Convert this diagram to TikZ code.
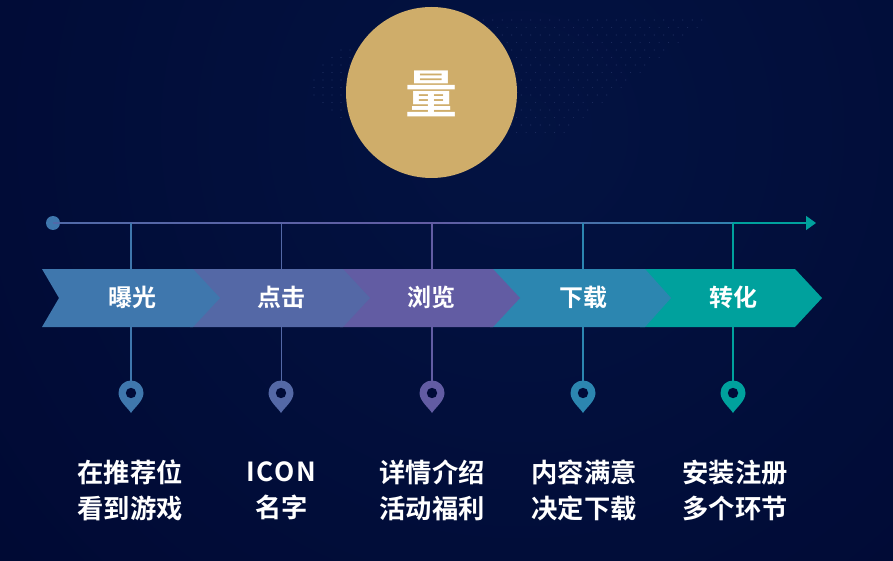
\documentclass[tikz,border=0pt]{standalone}
\usepackage{fontspec}
\setmainfont{Noto Sans CJK SC}[BoldFont={Noto Sans CJK SC Bold}]
\usetikzlibrary{arrows.meta}
\definecolor{bgGlow}{HTML}{031342}
\definecolor{bgBottom}{HTML}{000933}
\definecolor{dotTone}{HTML}{202F62}
\definecolor{lvlGold}{HTML}{CFAD6A}
\definecolor{lvlOne}{HTML}{3F77AD}
\definecolor{lvlTwo}{HTML}{5468A6}
\definecolor{lvlThree}{HTML}{625CA3}
\definecolor{lvlFour}{HTML}{2C86B0}
\definecolor{lvlFive}{HTML}{00A19D}
\definecolor{pinHole}{HTML}{000B38}
\pgfdeclarehorizontalshading{axisShade}{100bp}{
  color(0bp)=(lvlOne);
  color(50bp)=(lvlThree);
  color(72bp)=(lvlFour);
  color(90bp)=(lvlFive);
  color(100bp)=(lvlFive)
}

\begin{document}
\begin{tikzpicture}[
  x=1pt,
  y=-1pt,
  stageText/.style={
    text=white,
    align=center,
    inner sep=0pt,
    font=\fontsize{24}{28}\selectfont\bfseries
  },
  detailText/.style={
    text=white,
    align=center,
    inner sep=0pt,
    font=\fontsize{26.3}{36}\selectfont\bfseries
  },
  drop/.style={line width=1.5pt},
  dropThin/.style={line width=1pt},
  pinmark/.pic={
    \fill (0,20) .. controls (-3,15) and (-12.5,8) .. (-12.5,0)
      .. controls (-12.5,-7) and (-7,-12.5) .. (0,-12.5)
      .. controls (7,-12.5) and (12.5,-7) .. (12.5,0)
      .. controls (12.5,8) and (3,15) .. (0,20) -- cycle;
    \fill[pinHole] (0,0) circle (5.2);
  }
]

  \useasboundingbox (0,0) rectangle (893,561);
  \clip (0,0) rectangle (893,561);
  \shade[inner color=bgGlow, outer color=bgBottom] (520,130) circle (720);

  % dots round the circle
  \foreach \y in {20,27.5,...,135} {
    \pgfmathsetmacro{\xmax}{700-1.27*(\y-20)}
    \pgfmathsetmacro{\xoff}{mod(\y,15)*0.65}
    \foreach \x in {480,489.5,...,\xmax} {
      \fill[dotTone] (\x+\xoff,\y) circle (0.55);
    }
  }
  \foreach \y in {50,57.5,...,120} {
    \pgfmathsetmacro{\xmin}{305+0.85*abs(\y-85)}
    \foreach \x in {350,341,...,\xmin} {
      \fill[dotTone] (\x,\y) circle (0.55);
    }
  }

  % axis
  \coordinate (axisEnd) at (816,223);
  \node[circle, fill=lvlOne, inner sep=0pt, minimum size=14pt] (start) at (53,223) {};
  \shade[shading=axisShade] (53,222.2) rectangle (808,223.8);
  \coordinate (A1) at (131,223);
  \coordinate (A2) at (281,223);
  \coordinate (A3) at (432,223);
  \coordinate (A4) at (583,223);
  \coordinate (A5) at (733,223);
  \coordinate (P1) at (131,384);
  \coordinate (P2) at (281,384);
  \coordinate (P3) at (432,384);
  \coordinate (P4) at (583,384);
  \coordinate (P5) at (733,384);
  \draw[-{Triangle[length=10pt, width=14pt]}, lvlFive, line width=1.6pt] (A5) -- (axisEnd);

  \draw[drop, lvlOne] (A1) -- (P1);
  \draw[dropThin, lvlTwo] (A2) -- (P2);
  \draw[drop, lvlThree] (A3) -- (P3);
  \draw[drop, lvlFour] (A4) -- (P4);
  \draw[drop, lvlFive] (A5) -- (P5);

  % the left one lies on top of the next one
  \fill[lvlFive] (640,269) -- (795,269) -- (822,298) -- (795,327) -- (640,327) -- cycle;
  \fill[lvlFour] (490,269) -- (645,269) -- (671,298) -- (645,327) -- (490,327) -- cycle;
  \fill[lvlThree] (340,269) -- (493,269) -- (520,298) -- (493,327) -- (340,327) -- cycle;
  \fill[lvlTwo] (190,269) -- (343,269) -- (370,298) -- (343,327) -- (190,327) -- cycle;
  \fill[lvlOne] (42,269) -- (193,269) -- (220,298) -- (193,327) -- (42,327) -- (59,298) -- cycle;

  \node[stageText] (S1) at (132,297) {曝光};
  \node[stageText] (S2) at (281,297) {点击};
  \node[stageText] (S3) at (431,297) {浏览};
  \node[stageText] (S4) at (583,297) {下载};
  \node[stageText] (S5) at (733,297) {转化};

  \pic[lvlOne] at (131,393) {pinmark};
  \pic[lvlTwo] at (281,393) {pinmark};
  \pic[lvlThree] at (432,393) {pinmark};
  \pic[lvlFour] at (583,393) {pinmark};
  \pic[lvlFive] at (733,393) {pinmark};

  \node[detailText] (D1) at (130,490) {在推荐位\\看到游戏};
  \node[detailText] (D2) at (281.5,491) {\addfontfeature{LetterSpace=7}ICON\\名字};
  \node[detailText] (D3) at (432,490) {详情介绍\\活动福利};
  \node[detailText] (D4) at (584,490) {内容满意\\决定下载};
  \node[detailText] (D5) at (735,490) {安装注册\\多个环节};

  \node[circle, fill=lvlGold, inner sep=0pt, minimum size=171pt] (Q) at (431.5,92.5) {};
  \node[text=white, inner sep=0pt, font=\fontsize{52}{52}\selectfont\bfseries] (Qtext) at (431.5,93.5) {量};

\end{tikzpicture}
\end{document}
